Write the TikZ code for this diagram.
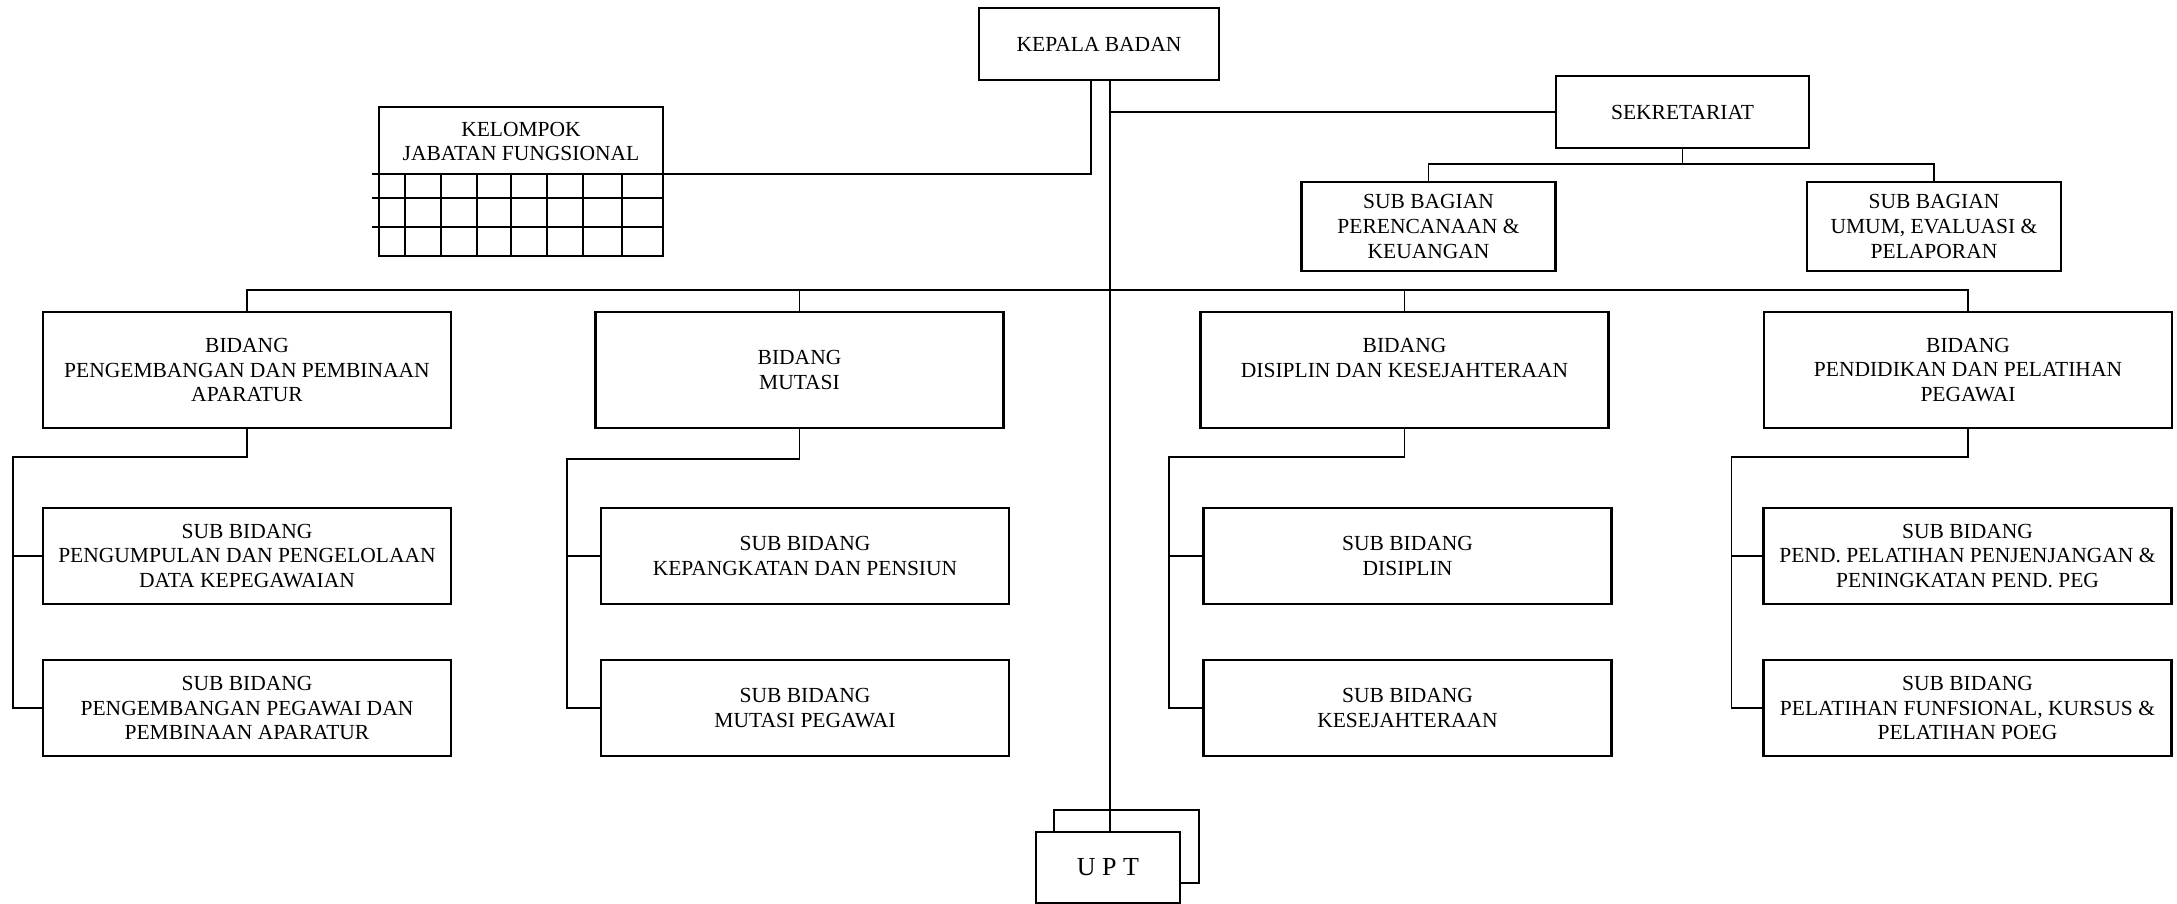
\documentclass[tikz,border=0pt]{standalone}
\usepackage{fontspec}
\setmainfont{Liberation Serif}
\usetikzlibrary{positioning}
\usetikzlibrary{calc}

\begin{document}
\begin{tikzpicture}[x=1pt,y=-1pt,
                box/.style={draw,line width=2.2pt,align=center,inner sep=0pt,
                            font=\fontsize{21.5}{24.7}\selectfont},
                txt/.style={align=center,inner sep=0pt,
                            font=\fontsize{21.5}{23.5}\selectfont},
                link/.style={line width=1.8pt},
                bidang/.style={box,minimum width=408pt,minimum height=116pt},
                subbidang/.style={box,minimum width=408pt,minimum height=96pt},
                subbagian/.style={box,minimum width=254pt,minimum height=89pt}]
             \useasboundingbox (0,0) rectangle (2177,904);

             \node[box,minimum width=240pt,minimum height=72pt] (kepala) at (1099,44) {KEPALA BADAN};
             \node[box,minimum width=253pt,minimum height=72pt] (sekretariat) at (1682.5,112) {SEKRETARIAT};
             \node[subbagian] (perencanaan) at (1428.5,226.5) {SUB BAGIAN\\PERENCANAAN \&\\KEUANGAN};
             \node[subbagian] (umum) at (1934,226.5) {SUB BAGIAN\\UMUM, EVALUASI \&\\PELAPORAN};

             \node[box,minimum width=284pt,minimum height=149pt] (kelompok) at (521,181.5) {};
             \node[txt] (kelompoktext) at (521,141.5) {KELOMPOK\\JABATAN FUNGSIONAL};

             \node[bidang] (pengembangan) at (247,370) {BIDANG\\PENGEMBANGAN DAN PEMBINAAN\\APARATUR};
             \node[bidang] (mutasi) at (799.5,370) {BIDANG\\MUTASI};
             \node[bidang] (disiplin) at (1404.5,370) {BIDANG\\DISIPLIN DAN KESEJAHTERAAN\\\mbox{}};
             \node[bidang] (diklat) at (1968,370) {BIDANG\\PENDIDIKAN DAN PELATIHAN\\PEGAWAI};

             \node[subbidang] (datapeg) at (247,556) {SUB BIDANG\\PENGUMPULAN DAN PENGELOLAAN\\DATA KEPEGAWAIAN};
             \node[subbidang] (binapeg) at (247,708) {SUB BIDANG\\PENGEMBANGAN PEGAWAI DAN\\PEMBINAAN APARATUR};
             \node[subbidang] (pangkat) at (805,556) {SUB BIDANG\\KEPANGKATAN DAN PENSIUN};
             \node[subbidang] (mutasipeg) at (805,708) {SUB BIDANG\\MUTASI PEGAWAI};
             \node[subbidang] (subdisiplin) at (1407.5,556) {SUB BIDANG\\DISIPLIN};
             \node[subbidang] (sejahtera) at (1407.5,708) {SUB BIDANG\\KESEJAHTERAAN};
             \node[subbidang] (penjenjangan) at (1967.5,556) {SUB BIDANG\\PEND. PELATIHAN PENJENJANGAN \&\\PENINGKATAN PEND. PEG};
             \node[subbidang] (fungsional) at (1967.5,708) {SUB BIDANG\\PELATIHAN FUNFSIONAL, KURSUS \&\\PELATIHAN POEG};

             \node[box,minimum width=145pt,minimum height=73pt] (uptback) at (1126.5,846.5) {};
             \node[box,fill=white,minimum width=144pt,minimum height=71pt,
                   font=\fontsize{26}{30}\selectfont] (upt) at (1108,867.5) {U P T};

             \coordinate (trunk) at (1110,80);
             \coordinate (kelompokup) at (1091,80);
             \coordinate (gridstart) at (372,174);
             \coordinate (sekbus) at (1682.5,164);
             \coordinate (bus) at (1110,290);
             \coordinate (rail1) at (13,457);
             \coordinate (rail2) at (567,459);
             \coordinate (rail3) at (1169,457);
             \coordinate (rail4) at (1731.5,457);

             \draw[link] (trunk) -- (trunk |- upt.north);
             \draw[link] (trunk |- sekretariat.west) -- (sekretariat.west);
             \draw[link] (kelompokup) |- (gridstart);
             \foreach \gy in {198,227}
                 \draw[link] (gridstart |- 0,\gy) -- (kelompok.east |- 0,\gy);
             \foreach \gx in {405,441,477,511,547,583,622}
                 \draw[link] (\gx,174) -- (\gx,256);

             \draw[link] (sekretariat.south) -- (sekbus);
             \draw[link] (perencanaan.north) |- (sekbus) -| (umum.north);

             \draw[link] (pengembangan.north) |- (bus) -| (diklat.north);
             \draw[link] (mutasi.north) -- (mutasi.north |- bus);
             \draw[link] (disiplin.north) -- (disiplin.north |- bus);

             \draw[link] (pengembangan.south) |- (rail1) |- (binapeg.west);
             \draw[link] (rail1 |- datapeg.west) -- (datapeg.west);
             \draw[link] (mutasi.south) |- (rail2) |- (mutasipeg.west);
             \draw[link] (rail2 |- pangkat.west) -- (pangkat.west);
             \draw[link] (disiplin.south) |- (rail3) |- (sejahtera.west);
             \draw[link] (rail3 |- subdisiplin.west) -- (subdisiplin.west);
             \draw[link] (diklat.south) |- (rail4) |- (fungsional.west);
             \draw[link] (rail4 |- penjenjangan.west) -- (penjenjangan.west);
\end{tikzpicture}
\end{document}
